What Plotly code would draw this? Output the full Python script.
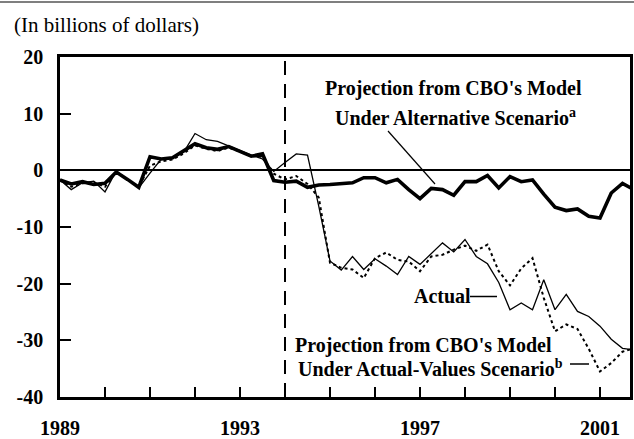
import plotly.graph_objects as go

# Quarterly observations, 1989Q1 ... 2001Q4 (52 quarters)
quarters = [f"{y}Q{q}" for y in range(1989, 2002) for q in range(1, 5)]
xq = [int(s[:4]) + (int(s[-1]) - 1) * 0.25 for s in quarters]

# Projection from CBO's model, alternative scenario (thick line)
alt_scenario = [-1.7, -2.4, -2.0, -2.5, -2.3, -0.3, -1.6, -3.0,
                2.4, 2.0, 2.2, 3.4, 4.7, 4.0, 3.7, 4.2,
                3.4, 2.5, 2.9, -1.8, -2.1, -1.9, -3.0, -2.6,
                -2.5, -2.4, -2.2, -1.3, -1.3, -2.2, -1.6, -3.4,
                -5.0, -3.2, -3.4, -4.4, -2.0, -2.0, -0.9, -3.1,
                -1.1, -2.0, -1.7, -4.2, -6.5, -7.1, -6.8, -8.1,
                -8.4, -4.0, -2.3, -3.4]

# Actual values (thin line)
actual = [-1.7, -3.4, -2.2, -1.9, -3.8, -0.1, -1.6, -3.1,
          -0.5, 2.0, 2.2, 3.2, 6.5, 5.4, 5.1, 4.3,
          3.4, 2.7, 2.0, -0.2, 1.4, 2.9, 2.7, -6.3,
          -16.0, -17.6, -15.2, -17.5, -15.6, -16.9, -18.4, -15.2,
          -16.6, -14.7, -12.8, -14.4, -12.2, -15.2, -16.5, -19.8,
          -24.6, -23.4, -24.6, -19.3, -24.6, -21.9, -24.9, -25.8,
          -27.5, -29.8, -31.4, -31.7]

# Projection from CBO's model, actual-values scenario (dotted line)
actual_values_scenario = [-1.7, -2.9, -2.3, -2.1, -2.9, -0.3, -1.7, -2.9,
                          0.8, 1.6, 1.9, 3.0, 4.4, 3.8, 3.4, 4.0,
                          3.3, 2.5, 2.4, -0.6, -1.6, -1.0, -2.4, -4.8,
                          -16.3, -17.2, -17.5, -19.0, -15.5, -14.5, -15.8, -16.1,
                          -17.8, -15.2, -14.9, -14.0, -13.3, -14.2, -13.1, -17.8,
                          -20.3, -17.3, -15.5, -22.5, -28.4, -27.2, -28.0, -31.5,
                          -35.5, -34.0, -32.0, -31.4]

y_ticks = [-40, -30, -20, -10, 0, 10, 20]
y_ticktext = ["-40", "-30", "-20", "-10", "0", "10", "20"]
x_ticks = list(range(1989, 2002))
x_ticktext = ["1989", "", "", "", "1993", "", "", "", "1997", "", "", "", "2001"]

FONT = "Liberation Serif"
W, H = 634, 439
L, R, T, B = 60, 4, 57, 42
PW, PH = W - L - R, H - T - B

def px(xpix):
    return (xpix - L) / PW

def py(ypix):
    return (H - B - ypix) / PH

fig = go.Figure()
fig.add_trace(go.Scatter(x=xq, y=actual_values_scenario, mode="lines",
                         line=dict(color="black", width=2, dash="dot"),
                         showlegend=False))
fig.add_trace(go.Scatter(x=xq, y=actual, mode="lines",
                         line=dict(color="black", width=1.3),
                         showlegend=False))
fig.add_trace(go.Scatter(x=xq, y=alt_scenario, mode="lines",
                         line=dict(color="black", width=3.6),
                         showlegend=False))

shapes = [
    dict(type="line", xref="x", yref="paper", x0=1994, x1=1994, y0=0, y1=1,
         line=dict(color="black", width=2, dash="14px,9px")),
    dict(type="line", xref="paper", yref="paper", x0=px(0), x1=px(W), y0=py(2), y1=py(2),
         line=dict(color="black", width=1.2)),
    dict(type="line", xref="paper", yref="paper", x0=px(388), y0=py(131), x1=px(435), y1=py(184),
         line=dict(color="black", width=1.2)),
    dict(type="line", xref="paper", yref="paper", x0=px(470), y0=py(296.5), x1=px(497), y1=py(296.5),
         line=dict(color="black", width=1.5)),
    dict(type="line", xref="paper", yref="paper", x0=px(570), y0=py(364), x1=px(589), y1=py(364),
         line=dict(color="black", width=1.5)),
]

def ann(text, xl, yc, size=20, bold=True):
    return dict(text=f"<b>{text}</b>" if bold else text, xref="paper", yref="paper",
                x=px(xl), y=py(yc), xanchor="left", yanchor="middle", showarrow=False,
                font=dict(family=FONT, size=size, color="black"))

annotations = [
    ann("(In billions of dollars)", 12, 25, size=21, bold=False),
    ann("Projection from CBO's Model", 323, 88),
    ann("Under Alternative Scenario<sup>a</sup>", 333, 117),
    ann("Actual", 412, 296),
    ann("Projection from CBO's Model", 293, 345),
    ann("Under Actual-Values Scenario<sup>b</sup>", 296, 368),
]

fig.update_layout(
    width=W, height=H,
    margin=dict(l=L, r=R, t=T, b=B, pad=0, autoexpand=False),
    paper_bgcolor="white", plot_bgcolor="white",
    font=dict(family=FONT, size=20, color="black"),
    shapes=shapes, annotations=annotations,
    showlegend=False,
)
fig.update_xaxes(range=[1989, 1989 + PW / 45.0], tickvals=x_ticks, ticktext=x_ticktext,
                 ticks="inside", ticklen=10, tickwidth=1.5, tickcolor="black",
                 showline=True, linecolor="black", linewidth=2.5, mirror=True,
                 showgrid=False, zeroline=False, ticklabelstandoff=11, automargin=False,
                 tickfont=dict(family=FONT, size=20, color="black", weight="bold"))
fig.update_yaxes(range=[-40, 20], tickvals=y_ticks, ticktext=y_ticktext,
                 ticks="inside", ticklen=11, tickwidth=1.5, tickcolor="black",
                 showline=True, linecolor="black", linewidth=2.5, mirror=True,
                 showgrid=False, zeroline=True, zerolinecolor="black", zerolinewidth=1.5,
                 ticklabelstandoff=10, automargin=False,
                 tickfont=dict(family=FONT, size=20, color="black", weight="bold"))

fig.write_html("out.html", config={"displayModeBar": False},
               post_script="document.body.style.margin='0';document.body.style.overflow='hidden';")
